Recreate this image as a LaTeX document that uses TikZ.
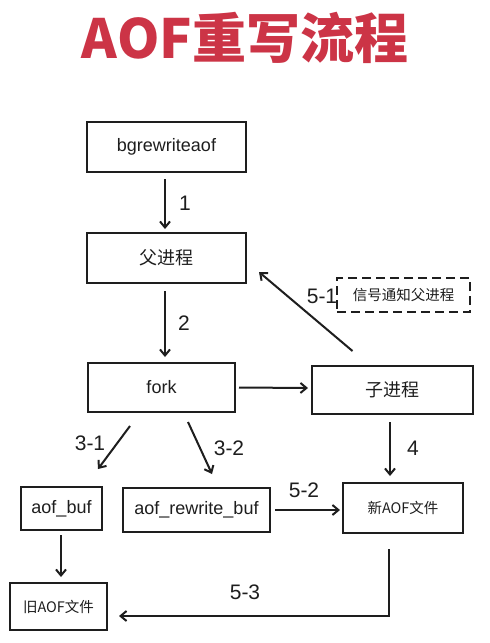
\documentclass[tikz,border=0pt]{standalone}
\usepackage{fontspec}
\setmainfont{Liberation Sans}
\newfontfamily\cjk{Noto Sans CJK SC}
\usetikzlibrary{arrows.meta}
\definecolor{titlered}{RGB}{204,52,70}
\definecolor{ink}{RGB}{30,30,30}
\begin{document}
\begin{tikzpicture}[x=1pt,y=-1pt,
  box/.style={draw=ink,line width=2pt,rectangle,inner sep=0pt,text=ink},
  latin/.style={font=\fontsize{18}{20}\selectfont},
  han/.style={font=\cjk\fontsize{18}{20}\selectfont},
  hansmall/.style={font=\cjk\fontsize{14.5}{16}\selectfont},
  arr/.style={draw=ink,line width=2pt,-{Straight Barb[length=6pt,width=10pt,line width=2pt]}},
  lbl/.style={text=ink,font=\fontsize{21}{23}\selectfont,inner sep=0pt}]
\useasboundingbox (0,0) rectangle (490,643);
\fill[white] (0,0) rectangle (490,643);
\node[text=titlered,font=\cjk\bfseries\fontsize{54}{56}\selectfont] (title) at (245,38) {AOF重写流程};
\node[box,latin,minimum width=159pt,minimum height=50pt] (bg) at (166.5,147) {bgrewriteaof};
\node[box,han,minimum width=159pt,minimum height=50pt] (fu) at (166.5,258) {父进程};
\node[box,hansmall,dashed,dash pattern=on 9pt off 5pt,minimum width=133pt,minimum height=34pt] (sig) at (403.5,295) {信号通知父进程};
\node[box,latin,minimum width=147pt,minimum height=49pt] (fork) at (161.5,387.5) {fork};
\node[box,han,minimum width=161pt,minimum height=48pt] (zi) at (392.5,390) {子进程};
\node[box,latin,minimum width=81pt,minimum height=43pt] (ab) at (61.5,508.5) {aof\_buf};
\node[box,latin,minimum width=147pt,minimum height=44pt] (arb) at (196.5,510) {aof\_rewrite\_buf};
\node[box,hansmall,minimum width=120pt,minimum height=50pt] (xin) at (403,508) {新AOF文件};
\node[box,hansmall,minimum width=97pt,minimum height=47pt] (jiu) at (58.5,606.5) {旧AOF文件};
% arrows
\draw[arr] ([xshift=-1.5pt,yshift=-6pt]bg.south) -- ([xshift=-1.5pt,yshift=3pt]fu.north);
\draw[arr] ([xshift=-1.5pt,yshift=-7pt]fu.south) -- ([xshift=3.5pt,yshift=5pt]fork.north);
\draw[arr] ([xshift=3pt]fork.east) -- ([xshift=-3pt,yshift=2pt]zi.west);
\draw[arr] ([xshift=-40pt,yshift=14pt]zi.north) -- ([xshift=12pt,yshift=-14pt]fu.east);
\draw[arr] ([xshift=-31.5pt,yshift=-13pt]fork.south) -- ([xshift=36.5pt,yshift=17pt]ab.north);
\draw[arr] ([xshift=26.5pt,yshift=-9pt]fork.south) -- ([xshift=15.5pt,yshift=13pt]arb.north);
\draw[arr] ([xshift=-2.5pt,yshift=-7pt]zi.south) -- ([xshift=-13pt,yshift=6pt]xin.north);
\draw[arr] ([xshift=4pt]arb.east) -- ([xshift=-2pt,yshift=-2pt]xin.west);
\draw[arr] ([xshift=-0.5pt,yshift=-4pt]ab.south) -- ([xshift=2.5pt,yshift=5pt]jiu.north);
\draw[arr] ([xshift=-14pt,yshift=-15pt]xin.south) |- ([xshift=11pt,yshift=-9.5pt]jiu.east);
% labels
\node[lbl] (l1) at (185,203) {1};
\node[lbl] (l2) at (184,323) {2};
\node[lbl] (l51) at (322,296) {5-1};
\node[lbl] (l31) at (90,443) {3-1};
\node[lbl] (l32) at (229,448) {3-2};
\node[lbl] (l4) at (413,448) {4};
\node[lbl] (l52) at (304,490) {5-2};
\node[lbl] (l53) at (245,592) {5-3};
\end{tikzpicture}
\end{document}
